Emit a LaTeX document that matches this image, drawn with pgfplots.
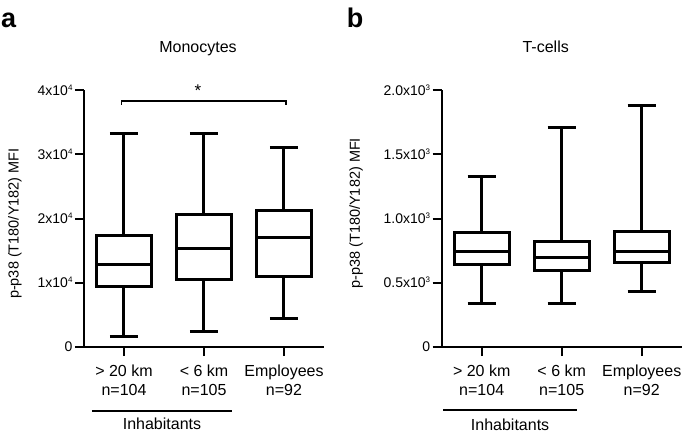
\documentclass[border=0pt]{standalone}
\usepackage{fontspec}
\setmainfont{Liberation Sans}
\usepackage{pgfplots}
\pgfplotsset{compat=1.18}
\usepgfplotslibrary{statistics}
\newcommand{\sq}[1]{\raisebox{0.36em}{\fontsize{8}{8}\selectfont #1}}

\pgfplotsset{
 panel/.style={
  scale only axis, width=240pt, height=257pt,
  axis lines=left, axis line style={-, line width=2pt, black},
  xmin=-0.5, xmax=2.5, ymin=0,
  xtick={0,1,2},
  xticklabels={{> 20 km\\n=104},{< 6 km\\n=105},{Employees\\n=92}},
  xticklabel style={align=center, font=\fontsize{16}{19.5}\selectfont, yshift=-5pt},
  yticklabel style={font=\fontsize{14}{16}\selectfont, xshift=1pt},
  tick align=outside, major tick length=9pt,
  every tick/.style={black, line width=2pt},
  clip=false,
  scaled y ticks=false,
  ylabel={p-p38 (T180/Y182) MFI},
  ylabel style={font=\fontsize{14.5}{17}\selectfont, anchor=center},
  boxplot/draw direction=y,
 },
 bx/.style={black, line width=3pt, solid},
}

\begin{document}
\begin{tikzpicture}
\path[use as bounding box] (0,0) rectangle (685pt,434pt);

% Panel a  (values in units of 10^4)
\begin{axis}[panel, at={(84pt,87pt)}, anchor=south west,
  ymax=4, ytick={0,1,2,3,4},
  yticklabels={0,{1x10\sq{4}},{2x10\sq{4}},{3x10\sq{4}},{4x10\sq{4}}},
  ylabel style={at={(axis description cs:-0.2875,0.48)}}]
\addplot[bx, boxplot prepared={draw position=0, lower whisker=0.156, lower quartile=0.94, median=1.28, upper quartile=1.74, upper whisker=3.33, box extend=0.69, whisker extend=0.35}] coordinates {};
\addplot[bx, boxplot prepared={draw position=1, lower whisker=0.24, lower quartile=1.05, median=1.54, upper quartile=2.06, upper whisker=3.33, box extend=0.69, whisker extend=0.35}] coordinates {};
\addplot[bx, boxplot prepared={draw position=2, lower whisker=0.44, lower quartile=1.09, median=1.70, upper quartile=2.13, upper whisker=3.11, box extend=0.69, whisker extend=0.35}] coordinates {};
\draw[line width=1.8pt] (axis cs:-0.03,3.77) -- (axis cs:-0.03,3.8288) -- (axis cs:2.03,3.8288) -- (axis cs:2.03,3.77);
\node[anchor=base, font=\fontsize{17}{20}\selectfont] at (axis cs:0.925,3.9066) {*};
\node[anchor=base, font=\fontsize{16}{19}\selectfont] at (axis cs:0.925,4.5806) {Monocytes};
\draw[line width=2pt] (axis cs:-0.4,-0.9961) -- (axis cs:1.35,-0.9961);
\node[anchor=base, font=\fontsize{16}{19}\selectfont] at (axis cs:0.475,-1.2763) {Inhabitants};
\node[anchor=base west, inner sep=0pt, font=\fontsize{27}{30}\selectfont\bfseries] at (axis description cs:-0.3458,1.2451) {a};
\end{axis}

% Panel b  (values in units of 10^3)
\begin{axis}[panel, at={(441.7pt,87pt)}, anchor=south west,
  ymax=2, ytick={0,0.5,1,1.5,2},
  yticklabels={0,{0.5x10\sq{3}},{1.0x10\sq{3}},{1.5x10\sq{3}},{2.0x10\sq{3}}},
  ylabel style={at={(axis description cs:-0.357,0.52)}}]
\addplot[bx, boxplot prepared={draw position=0, lower whisker=0.342, lower quartile=0.640, median=0.744, upper quartile=0.894, upper whisker=1.324, box extend=0.69, whisker extend=0.35}] coordinates {};
\addplot[bx, boxplot prepared={draw position=1, lower whisker=0.342, lower quartile=0.596, median=0.694, upper quartile=0.824, upper whisker=1.705, box extend=0.69, whisker extend=0.35}] coordinates {};
\addplot[bx, boxplot prepared={draw position=2, lower whisker=0.435, lower quartile=0.656, median=0.744, upper quartile=0.902, upper whisker=1.879, box extend=0.69, whisker extend=0.35}] coordinates {};
\node[anchor=base, font=\fontsize{16}{19}\selectfont] at (axis cs:0.8,2.290) {T-cells};
\draw[line width=2pt] (axis cs:-0.48,-0.4903) -- (axis cs:1.19,-0.4903);
\node[anchor=base, font=\fontsize{16}{19}\selectfont] at (axis cs:0.355,-0.6459) {Inhabitants};
\node[anchor=base west, inner sep=0pt, font=\fontsize{27}{30}\selectfont\bfseries] at (axis description cs:-0.3958,1.2451) {b};
\end{axis}
\end{tikzpicture}
\end{document}
